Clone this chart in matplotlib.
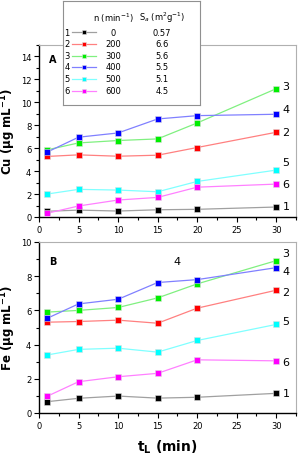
import matplotlib.pyplot as plt
from matplotlib.ticker import MultipleLocator

# ----------------------------------------------
# Data
# ----------------------------------------------
t_L = [1, 5, 10, 15, 20, 30]

series_ids = ["1", "2", "3", "4", "5", "6"]
n_rpm = ["0", "200", "300", "400", "500", "600"]
s_a = ["0.57", "6.6", "5.6", "5.5", "5.1", "4.5"]

cu = [
    [0.50, 0.60, 0.52, 0.63, 0.67, 0.87],
    [5.28, 5.42, 5.30, 5.39, 6.06, 7.39],
    [5.85, 6.46, 6.67, 6.81, 8.20, 11.19],
    [5.65, 6.96, 7.33, 8.55, 8.84, 8.96],
    [2.00, 2.41, 2.35, 2.20, 3.10, 4.09],
    [0.32, 0.96, 1.48, 1.71, 2.60, 2.87],
]
fe = [
    [0.66, 0.86, 0.99, 0.87, 0.92, 1.15],
    [5.31, 5.35, 5.43, 5.25, 6.13, 7.18],
    [5.90, 6.00, 6.17, 6.73, 7.55, 8.91],
    [5.53, 6.38, 6.65, 7.63, 7.80, 8.50],
    [3.39, 3.72, 3.79, 3.56, 4.24, 5.18],
    [0.97, 1.83, 2.12, 2.32, 3.11, 3.05],
]

# end-of-line label heights (data units)
cu_label_y = [0.96, 7.4, 11.4, 9.4, 4.8, 2.87]
fe_label_y = [1.17, 7.06, 9.34, 8.29, 5.37, 3.0]

marker_colors = ["#000000", "#ff0000", "#00ee00", "#0000ff", "#00ffff", "#ff00ff"]
line_colors = ["#a0a0a0", "#ff8080", "#80f080", "#8080ff", "#80ffff", "#ff80ff"]

W, H = 298, 464


def px_axes(left, top, right, bottom):
    return [left / W, 1 - bottom / H, (right - left) / W, (bottom - top) / H]


def style_axes(ax, ymax):
    ax.set_xlim(0, 32.5)
    ax.set_ylim(0, ymax)
    ax.xaxis.set_major_locator(MultipleLocator(5))
    ax.xaxis.set_minor_locator(MultipleLocator(2.5))
    ax.yaxis.set_major_locator(MultipleLocator(2))
    ax.yaxis.set_minor_locator(MultipleLocator(1))
    ax.tick_params(which="both", direction="out", labelsize=6, width=0.8,
                   top=False, right=False, pad=2)
    ax.tick_params(which="major", length=3.5)
    ax.tick_params(which="minor", length=2)
    for s in ["top", "right"]:
        ax.spines[s].set_color("#b0b0b0")
        ax.spines[s].set_linewidth(0.8)
    for s in ["left", "bottom"]:
        ax.spines[s].set_linewidth(1.0)


def draw_series(ax, data, label_y):
    for i, ys in enumerate(data):
        ax.plot(t_L, ys, color=line_colors[i], lw=0.9, zorder=2)
        ax.plot(t_L, ys, ls="none", marker="s", ms=4.2,
                mfc=marker_colors[i], mec="#e0e0e0", mew=0.4, zorder=3)
        ax.text(30.8, label_y[i], series_ids[i], fontsize=8,
                ha="left", va="center")


fig = plt.figure(figsize=(W / 100, H / 100), dpi=100)

# ----------------------------------------------
# Panel A - Cu
# ----------------------------------------------
ax1 = fig.add_axes(px_axes(39, 46, 296, 218))
style_axes(ax1, 15)
draw_series(ax1, cu, cu_label_y)
ax1.text(0.04, 0.9, "A", transform=ax1.transAxes, fontsize=7, fontweight="bold")
ax1.set_ylabel("Cu (µg mL$^{\\mathbf{-1}}$)", fontsize=8.5, fontweight="bold")
ax1.yaxis.set_label_coords(-0.08, 0.5)

# ----------------------------------------------
# Panel B - Fe
# ----------------------------------------------
ax2 = fig.add_axes(px_axes(39, 243, 296, 414))
style_axes(ax2, 10)
draw_series(ax2, fe, fe_label_y)
ax2.text(0.04, 0.87, "B", transform=ax2.transAxes, fontsize=7, fontweight="bold")
ax2.text(17.0, 8.87, "4", fontsize=8, ha="left", va="center")
ax2.set_ylabel("Fe (µg mL$^{\\mathbf{-1}}$)", fontsize=8.5, fontweight="bold")
ax2.yaxis.set_label_coords(-0.08, 0.5)
ax2.set_xlabel("t$_{\\mathbf{L}}$ (min)", fontsize=10, fontweight="bold", labelpad=6)

# ----------------------------------------------
# Legend table (drawn in its own axes on top)
# ----------------------------------------------
lg = fig.add_axes(px_axes(63, 2, 200, 106))
lg.set_xlim(63, 200)
lg.set_ylim(106, 2)
lg.set_xticks([])
lg.set_yticks([])
for s in lg.spines.values():
    s.set_color("#909090")
    s.set_linewidth(0.8)
lg.text(113, 18, "n (min$^{-1}$)", fontsize=6, ha="center", va="center")
lg.text(162, 18, "S$_a$ (m$^2$g$^{-1}$)", fontsize=6, ha="center", va="center")
row_y = [33, 44.5, 56.5, 68, 80, 92]
for i, y in enumerate(row_y):
    lg.text(64.5, y, series_ids[i], fontsize=6, ha="left", va="center")
    lg.plot([72, 96], [y, y], color=line_colors[i], lw=0.9)
    lg.plot([84], [y], ls="none", marker="s", ms=3.5,
            mfc=marker_colors[i], mec="#e0e0e0", mew=0.4)
    lg.text(113, y, n_rpm[i], fontsize=6, ha="center", va="center")
    lg.text(162, y, s_a[i], fontsize=6, ha="center", va="center")

fig.savefig("out.png", dpi=100)
